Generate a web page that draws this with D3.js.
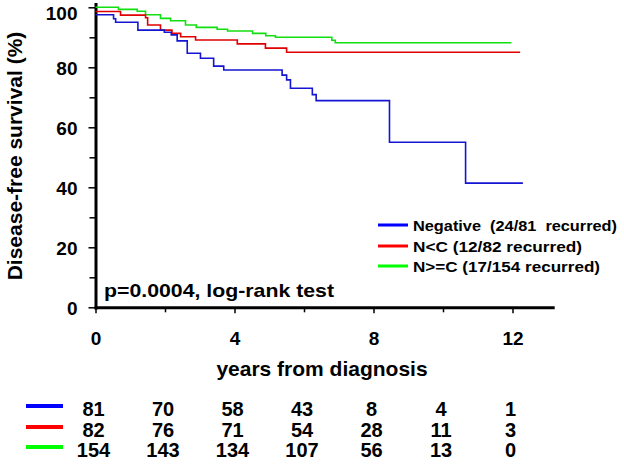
<!DOCTYPE html>
<html>
<head>
<meta charset="utf-8">
<script src="https://cdn.jsdelivr.net/npm/d3@7"></script>
<style>
  html, body { margin: 0; padding: 0; background: #fff; }
  svg { display: block; }
  text { font-family: "Liberation Sans", Arial, Helvetica, sans-serif; font-weight: bold; fill: #000; }
</style>
</head>
<body>
<svg id="chart" width="624" height="464"></svg>
<script>
// ---------------- data ----------------
const groups = ["Negative", "N<C", "N>=C"];
const legendLabels = ["Negative  (24/81  recurred)", "N<C (12/82 recurred)", "N>=C (17/154 recurred)"];
const curveColors = ["#1414d2", "#e00000", "#10e010"];
const legendColors = ["#0000ff", "#ff0000", "#00ff00"];

// Kaplan-Meier step points: [years, survival %]
const negativeCurve = [
  [0, 97.5], [0.52, 96.2], [0.58, 95.0], [1.22, 92.4], [1.98, 91.7], [2.18, 90.8],
  [2.35, 88.8], [2.64, 84.7], [3.02, 83.0], [3.4, 80.4], [3.69, 79.1], [5.37, 77.4],
  [5.5, 75.8], [5.61, 73.0], [6.24, 70.9], [6.35, 68.9], [8.46, 55.0], [10.65, 41.4],
  [12.3, 41.4]
];
const nLessCCurve = [
  [0, 98.6], [0.72, 97.4], [1.44, 96.5], [1.5, 94.1], [1.87, 92.4], [2.2, 91.3],
  [2.45, 90.2], [2.88, 89.1], [4.08, 87.8], [4.89, 86.4], [5.5, 85.0], [12.22, 85.0]
];
const nGreaterCCurve = [
  [0, 100], [0.66, 99.3], [1.2, 98.7], [1.44, 97.5], [1.87, 96.3], [2.16, 95.5],
  [2.59, 94.1], [2.9, 93.3], [3.5, 92.7], [3.8, 92.1], [4.52, 91.3], [4.9, 90.5],
  [5.18, 90.0], [6.8, 89.0], [6.9, 88.2], [11.97, 88.2]
];
const curves = [negativeCurve, nLessCCurve, nGreaterCCurve];

const riskTimes = [0, 2, 4, 6, 8, 10, 12];
const riskNegative = [81, 70, 58, 43, 8, 4, 1];
const riskNLessC = [82, 76, 71, 54, 28, 11, 3];
const riskNGreaterC = [154, 143, 134, 107, 56, 13, 0];
const riskRows = [riskNegative, riskNLessC, riskNGreaterC];

const yMajorTicks = [0, 20, 40, 60, 80, 100];
const yMinorTicks = [10, 30, 50, 70, 90];
const xMajorTicks = [0, 4, 8, 12];
const xMinorTicks = [2, 6, 10];

const yTitle = "Disease-free survival (%)";
const xTitle = "years from diagnosis";
const pText = "p=0.0004, log-rank test";

// ---------------- scales ----------------
const svg = d3.select("#chart");
const x = d3.scaleLinear().domain([0, 12]).range([95.5, 512.5]);
const y = d3.scaleLinear().domain([0, 100]).range([307.3, 7.3]);

const xAxisScale = x.copy().domain([-0.04, 13.2]).range([x(-0.04), x(13.2)]);
const yAxisScale = y.copy().domain([-0.6, 101.6]).range([y(-0.6), y(101.6)]);

// ---------------- axes ----------------
const gy = svg.append("g").attr("transform", `translate(${x(0)},0)`);
gy.call(d3.axisLeft(yAxisScale).tickValues(yMajorTicks).tickSize(7).tickSizeOuter(0).tickPadding(11));
gy.select(".domain").attr("stroke", "#000").attr("stroke-width", 3);
gy.selectAll(".tick line").attr("stroke", "#000").attr("stroke-width", 1.5);
gy.selectAll(".tick text").attr("font-size", 19).attr("x", -18)
  .attr("dy", d => d === 100 ? "0.62em" : "0.36em")
  .style("font-family", '"Liberation Sans", Arial, sans-serif').style("font-weight", "bold");

const gyMinor = svg.append("g").attr("transform", `translate(${x(0)},0)`);
gyMinor.call(d3.axisLeft(y).tickValues(yMinorTicks).tickSize(6).tickSizeOuter(0).tickFormat(""));
gyMinor.select(".domain").remove();
gyMinor.selectAll(".tick line").attr("stroke", "#000").attr("stroke-width", 1.5);

const gx = svg.append("g").attr("transform", `translate(0,${y(0)})`);
gx.call(d3.axisBottom(xAxisScale).tickValues(xMajorTicks).tickSize(6).tickSizeOuter(0));
gx.select(".domain").attr("stroke", "#000").attr("stroke-width", 3);
gx.selectAll(".tick line").attr("stroke", "#000").attr("stroke-width", 1.5);
gx.selectAll(".tick text").attr("font-size", 19).attr("y", 38).attr("dy", 0)
  .style("font-family", '"Liberation Sans", Arial, sans-serif').style("font-weight", "bold");

const gxMinor = svg.append("g").attr("transform", `translate(0,${y(0)})`);
gxMinor.call(d3.axisBottom(x).tickValues(xMinorTicks).tickSize(5).tickSizeOuter(0).tickFormat(""));
gxMinor.select(".domain").remove();
gxMinor.selectAll(".tick line").attr("stroke", "#000").attr("stroke-width", 1.5);

// ---------------- titles ----------------
svg.append("text")
  .attr("transform", `translate(22,156) rotate(-90)`)
  .attr("text-anchor", "middle")
  .attr("font-size", 21)
  .text(yTitle);

svg.append("text")
  .attr("x", 322).attr("y", 376)
  .attr("text-anchor", "middle")
  .attr("font-size", 21)
  .text(xTitle);

svg.append("text")
  .attr("x", 104).attr("y", 297)
  .attr("font-size", 18.5)
  .attr("textLength", 230).attr("lengthAdjust", "spacingAndGlyphs")
  .text(pText);

// ---------------- curves ----------------
const line = d3.line()
  .x(d => x(d[0]))
  .y(d => y(d[1]))
  .curve(d3.curveStepAfter);

// draw green, red, blue (blue on top)
[2, 1, 0].forEach(i => {
  svg.append("path")
    .datum(curves[i])
    .attr("fill", "none")
    .attr("stroke", curveColors[i])
    .attr("stroke-width", 1.6)
    .attr("d", line);
});

// ---------------- legend ----------------
const legendY = [225, 246, 266];
const legendWidths = [204, 169, 187];
const lg = svg.append("g");
groups.forEach((g, i) => {
  lg.append("line")
    .attr("x1", 378).attr("x2", 408)
    .attr("y1", legendY[i]).attr("y2", legendY[i])
    .attr("stroke", legendColors[i]).attr("stroke-width", 3);
  lg.append("text")
    .attr("x", 413).attr("y", legendY[i] + 5.5)
    .attr("font-size", 15.5)
    .style("white-space", "pre")
    .attr("textLength", legendWidths[i]).attr("lengthAdjust", "spacingAndGlyphs")
    .text(legendLabels[i]);
});

// ---------------- number at risk ----------------
const riskY = [406, 427, 447];
const rg = svg.append("g");
riskRows.forEach((row, i) => {
  rg.append("line")
    .attr("x1", 26).attr("x2", 63)
    .attr("y1", riskY[i]).attr("y2", riskY[i])
    .attr("stroke", legendColors[i]).attr("stroke-width", 4);
  rg.selectAll(null)
    .data(row)
    .enter()
    .append("text")
    .attr("x", (d, j) => x(riskTimes[j]) - 2)
    .attr("y", riskY[i] + 10)
    .attr("text-anchor", "middle")
    .attr("font-size", 20)
    .text(d => d);
});
</script>
</body>
</html>
